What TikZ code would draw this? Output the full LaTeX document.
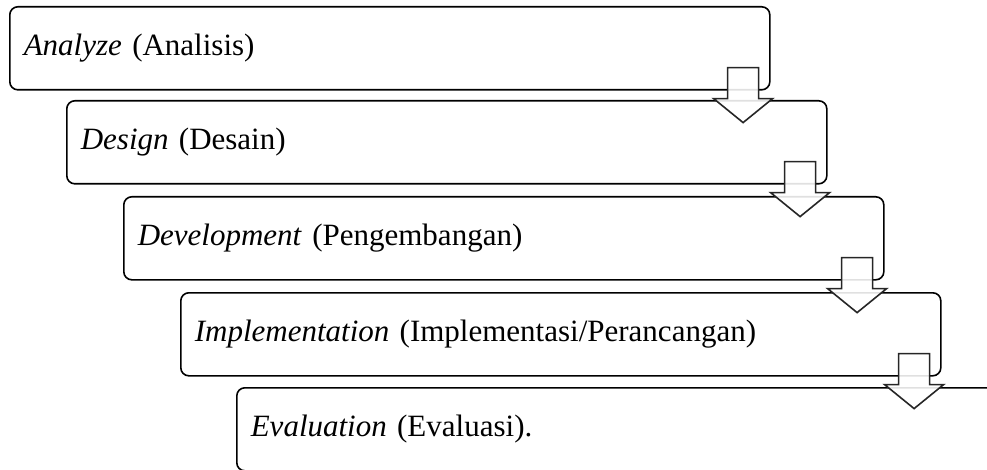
\documentclass[tikz,border=0pt]{standalone}
\usepackage{fontspec}
\setmainfont{Liberation Serif}
\usetikzlibrary{calc}

\tikzset{
	stage/.style={draw, line width=1.6pt, rounded corners=8pt, anchor=north west,
		minimum height=83pt, text width=732pt, inner xsep=14pt, inner ysep=0pt,
		align=left, font=\fontsize{31}{37}\selectfont},
	blockarrow/.style={draw=black!85, line width=1.6pt, fill=white, fill opacity=0.88}
}

\begin{document}
\begin{tikzpicture}[x=1pt, y=-1pt]
				% Frame
				\useasboundingbox (0,0) rectangle (987,470);
				\clip (0,0) rectangle (987,470);
				% Stages
				\node[stage] (ana) at (9,6) {\textit{Analyze} (Analisis)};
				\node[stage] (des) at (66,100) {\textit{Design} (Desain)};
				\node[stage] (dev) at (123,196) {\textit{Development} (Pengembangan)};
				\node[stage] (imp) at (180,292) {\textit{Implementation} (Implementasi/Perancangan)};
				\node[stage] (eva) at (236,387) {\textit{Evaluation} (Evaluasi).};
				% Arrows
				\foreach \a/\b in {ana/des,des/dev,dev/imp,imp/eva}
					\draw[blockarrow] ($(\a.south east)+(-43,-23)$) -- ++(31,0) -- ++(0,31)
						-- ++(14,0) -- ++(-29.5,24) -- ++(-29.5,-24) -- ++(14,0) -- cycle;
			\end{tikzpicture}
\end{document}
